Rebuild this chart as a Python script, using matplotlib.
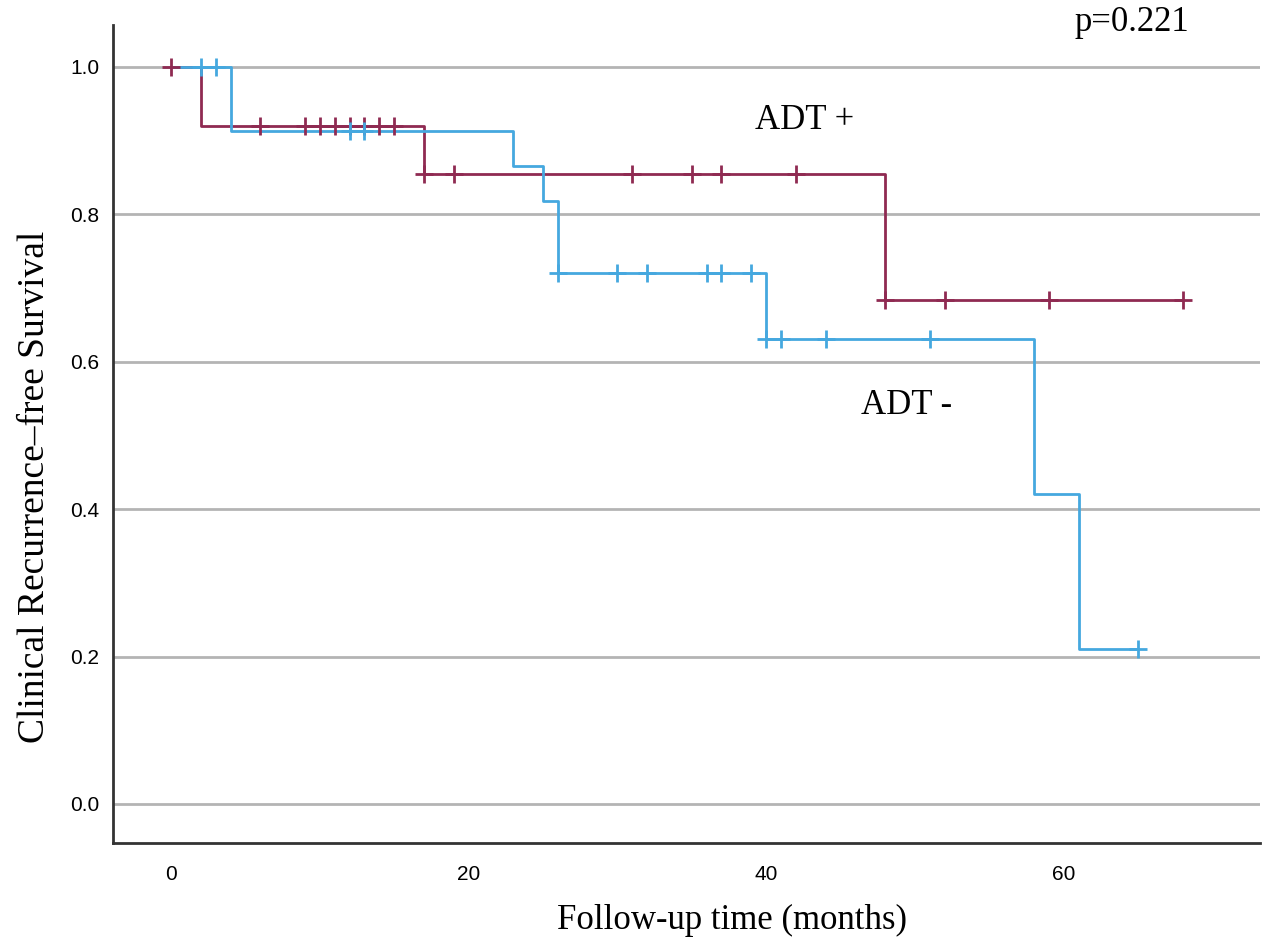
'''
    Kaplan-Meier curves of clinical recurrence-free survival, ADT+ vs ADT-.
    Step times / survival values are read off the published figure.
'''

import numpy as np
import matplotlib
matplotlib.use('Agg')
import matplotlib.pyplot as plt

# ADT + (maroon): event times and survival after each step
adt_pos_times = [0, 2, 17, 48]
adt_pos_surv = [1.0, 0.92, 0.855, 0.684]
adt_pos_end = 68
adt_pos_censor = [0, 6, 9, 10, 11, 12, 13, 14, 15, 17, 19, 31, 35, 37, 42, 48, 52, 59, 68]

# ADT - (blue)
adt_neg_times = [0, 4, 23, 25, 26, 40, 58, 61]
adt_neg_surv = [1.0, 0.913, 0.866, 0.818, 0.721, 0.631, 0.421, 0.21]
adt_neg_end = 65
adt_neg_censor = [2, 3, 12, 13, 26, 30, 32, 36, 37, 39, 40, 41, 44, 51, 65]

x_ticks = [0, 20, 40, 60]
y_ticks = [0.0, 0.2, 0.4, 0.6, 0.8, 1.0]

_MAROON = '#8f2a52'
_BLUE = '#45a8df'
_SERIF = ['Liberation Serif', 'DejaVu Serif']


def surv_at(times, surv, t):
    ''' Value of the step function at time t (right-continuous) '''
    idx = np.searchsorted(times, t, side='right') - 1
    return np.asarray(surv)[idx]


def draw_km(ax, times, surv, end, censor, color):
    xs = list(times) + [end]
    ys = list(surv) + [surv[-1]]
    ax.step(xs, ys, where='post', color=color, lw=2, zorder=3)
    cy = [surv_at(times, surv, t) for t in censor]
    ax.plot(censor, cy, ls='none', marker='+', ms=13, mew=2,
            color=color, zorder=4)


fig = plt.figure(figsize=(12.73, 9.39), dpi=100)
ax = fig.add_axes([0.0888, 0.1022, 0.901, 0.8712])

draw_km(ax, adt_pos_times, adt_pos_surv, adt_pos_end, adt_pos_censor, _MAROON)
draw_km(ax, adt_neg_times, adt_neg_surv, adt_neg_end, adt_neg_censor, _BLUE)

ax.set_xlim(-3.9, 73.2)
ax.set_ylim(-0.053, 1.057)
ax.set_xticks(x_ticks)
ax.set_yticks(y_ticks)
ax.set_yticklabels(['{:.1f}'.format(v) for v in y_ticks])
ax.tick_params(length=0, labelsize=15, pad=10)
for lab in ax.get_xticklabels() + ax.get_yticklabels():
    lab.set_family(['Liberation Sans', 'DejaVu Sans'])
ax.tick_params(axis='x', pad=16)
ax.yaxis.grid(True, color='#b4b4b4', lw=2)
ax.set_axisbelow(True)
for side in ('top', 'right'):
    ax.spines[side].set_visible(False)
for side in ('left', 'bottom'):
    ax.spines[side].set_linewidth(2)
    ax.spines[side].set_color('#333333')

ax.set_xlabel('Follow-up time (months)', family=_SERIF, fontsize=25, labelpad=14)
ax.set_ylabel('Clinical Recurrence\u2013free Survival', family=_SERIF,
              fontsize=27, labelpad=13)
ax.xaxis.label.set_x(0.54)   # label sits right of centre in the original
ax.yaxis.label.set_y(0.435)

ax.text(42.6, 0.927, 'ADT +', family=_SERIF, fontsize=25, ha='center', va='center')
ax.text(46.4, 0.541, 'ADT -', family=_SERIF, fontsize=25, ha='left', va='center')
ax.text(64.6, 1.06, 'p=0.221', family=_SERIF, fontsize=25, ha='center', va='center')

fig.savefig('out.png', dpi=100)
